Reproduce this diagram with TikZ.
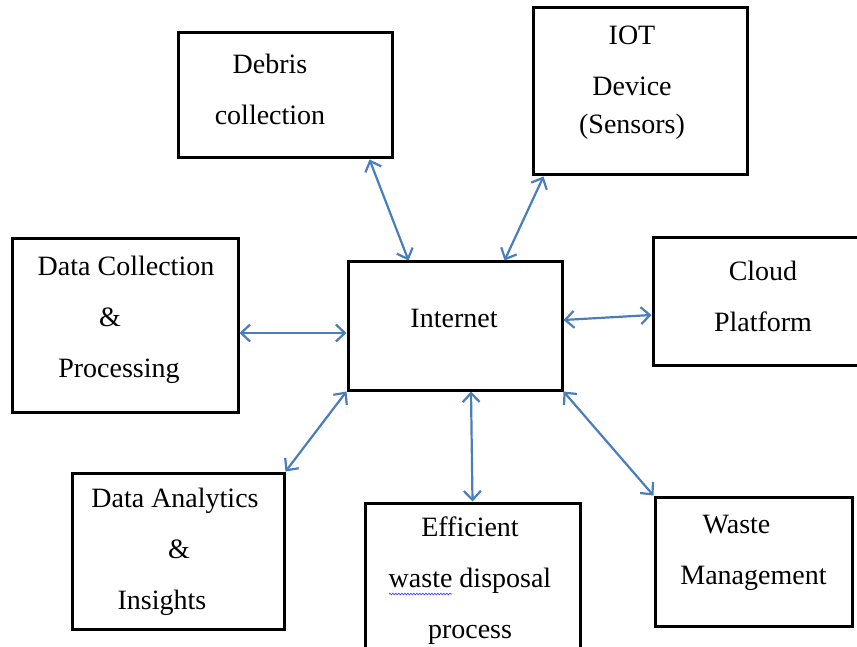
\documentclass[tikz,border=0pt]{standalone}
\usepackage{fontspec}
\setmainfont{Liberation Serif}
\usetikzlibrary{arrows.meta, decorations.pathmorphing}
\definecolor{linkblue}{HTML}{4A7EBB}

\begin{document}
\begin{tikzpicture}[x=1pt, y=-1pt,
			box/.style = {draw, line width=3pt, inner sep=0pt},
			boxtext/.style = {align=center, inner sep=0pt,
				font=\fontsize{28}{51}\selectfont},
			link/.style = {linkblue, line width=2.2pt, <->,
				>={Straight Barb[length=9pt, width=17pt]}}]
			\clip (0,0) rectangle (857,647);
			% boxes
			\node (debris) [box, minimum width=214pt, minimum height=125pt] at (285,95.5) {};
			\node (iot) [box, minimum width=214pt, minimum height=167pt] at (640,91.5) {};
			\node (collect) [box, minimum width=226pt, minimum height=173pt] at (125,325.5) {};
			\node (internet) [box, minimum width=214pt, minimum height=128pt] at (455,326) {};
			\node (cloud) [box, minimum width=220pt, minimum height=127pt] at (763,301.5) {};
			\node (analytics) [box, minimum width=212pt, minimum height=156pt] at (178,551) {};
			\node (disposal) [box, minimum width=215pt, minimum height=160pt] at (472.5,583) {};
			\node (waste) [box, minimum width=197pt, minimum height=129pt] at (753.5,561.5) {};
			% texts
			\node (debris-txt) [boxtext] at (270,89) {Debris\\collection};
			\node (iot-txt) [boxtext] at (632,83) {IOT\\Device\\[-13pt](Sensors)};
			\node (collect-txt) [boxtext] at (126,320) {Data Collection\\\mbox{\&\kern32pt}\\\mbox{Processing\kern14pt}};
			\node (internet-txt) [boxtext] at (454,318) {Internet};
			\node (cloud-txt) [boxtext] at (763,296) {Cloud\\Platform};
			\node (analytics-txt) [boxtext] at (175,552) {Data Analytics\\\mbox{\kern8pt\&}\\\mbox{Insights\kern26pt}};
			\node (disposal-txt) [boxtext] at (470,581) {Efficient\\waste disposal\\process};
			\node (waste-txt) [boxtext] at (753.5,553) {\mbox{Waste\kern34pt}\\Management};
			% spell check mark
			\draw [blue!75, line width=0.7pt, decorate,
				decoration={snake, amplitude=0.8pt, segment length=3pt}]
				(389,594) -- (452,594);
			% connections
			\path [link]
			([xshift=-24pt]debris.south east) edge ([xshift=62pt]internet.north west)
			([xshift=12pt]iot.south west) edge ([xshift=-59pt]internet.north east)
			([yshift=-7.5pt]collect.east) edge ([yshift=-7pt]internet.west)
			([yshift=6pt]internet.east) edge ([yshift=-13.5pt]cloud.west)
			(internet.south west) edge (analytics.north east)
			([xshift=16pt]internet.south) edge (disposal.north)
			(internet.south east) edge (waste.north west);
		\end{tikzpicture}
\end{document}
